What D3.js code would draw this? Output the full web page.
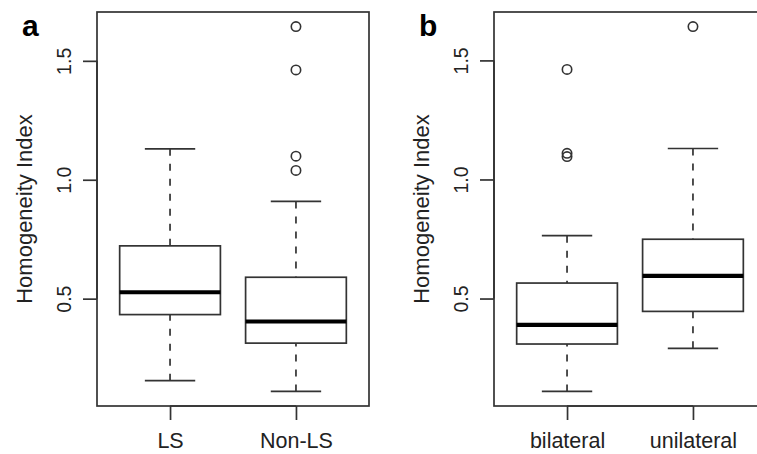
<!DOCTYPE html>
<html lang="en">
<head>
<meta charset="UTF-8">
<title>Homogeneity Index boxplots</title>
<script src="https://d3js.org/d3.v7.min.js"></script>
<style>
  body { margin: 0; background: #fff; }
  svg { display: block; font-family: "Liberation Sans", Arial, Helvetica, sans-serif; }
  .frame { fill: none; stroke: #333; stroke-width: 1.7; }
  .axis line { stroke: #333; stroke-width: 1.7; }
  .axis text { fill: #222; }
  .box { fill: #fff; stroke: #333; stroke-width: 1.7; }
  .median { stroke: #000; stroke-width: 4.2; }
  .whisker { stroke: #333; stroke-width: 1.7; stroke-dasharray: 7,8; }
  .staple { stroke: #333; stroke-width: 1.7; }
  .outlier { fill: none; stroke: #333; stroke-width: 1.6; }
</style>
</head>
<body>
<script>

// panel a
var groupsA = ["LS", "Non-LS"];
// [lower whisker, Q1, median, Q3, upper whisker]
var statsA = [
  [0.155, 0.433, 0.527, 0.722, 1.130],
  [0.110, 0.313, 0.404, 0.590, 0.909]
];
var outliersA = [[], [1.039, 1.099, 1.462, 1.644]];

// panel b
var groupsB = ["bilateral", "unilateral"];
var statsB = [
  [0.110, 0.309, 0.389, 0.565, 0.764],
  [0.291, 0.446, 0.595, 0.749, 1.130]
];
var outliersB = [[1.096, 1.110, 1.462], [1.642]];

var yTicks = [0.5, 1.0, 1.5];
var yTitle = "Homogeneity Index";

var width = 757, height = 454;
var plotTop = 12, plotBottom = 406, plotWidth = 272;

var svg = d3.select("body").append("svg")
    .attr("width", width)
    .attr("height", height);

svg.append("rect").attr("width", width).attr("height", height).attr("fill", "#fff");

function drawPanel(left, letter, groups, stats, outliers) {
  var all = [];
  stats.forEach(function(s) { all = all.concat(s); });
  outliers.forEach(function(o) { all = all.concat(o); });
  var lo = d3.min(all), hi = d3.max(all), pad = (hi - lo) * 0.04;

  var y = d3.scaleLinear().domain([lo - pad, hi + pad]).range([plotBottom, plotTop]);
  var n = groups.length, xpad = n * 0.04;
  var x = d3.scaleLinear().domain([0.5 - xpad, n + 0.5 + xpad]).range([left, left + plotWidth]);

  var g = svg.append("g");

  g.append("rect")
      .attr("class", "frame")
      .attr("x", left).attr("y", plotTop)
      .attr("width", plotWidth).attr("height", plotBottom - plotTop);

  var boxes = g.selectAll(".grp")
      .data(stats)
      .enter().append("g")
      .attr("class", "grp");

  var half = 0.4;

  boxes.append("line")
      .attr("class", "whisker")
      .attr("x1", function(d, i) { return x(i + 1); })
      .attr("x2", function(d, i) { return x(i + 1); })
      .attr("y1", function(d) { return y(d[4]); })
      .attr("y2", function(d) { return y(d[3]); });

  boxes.append("line")
      .attr("class", "whisker")
      .attr("x1", function(d, i) { return x(i + 1); })
      .attr("x2", function(d, i) { return x(i + 1); })
      .attr("y1", function(d) { return y(d[0]); })
      .attr("y2", function(d) { return y(d[1]); });

  [0, 4].forEach(function(k) {
    boxes.append("line")
        .attr("class", "staple")
        .attr("x1", function(d, i) { return x(i + 1 - half / 2); })
        .attr("x2", function(d, i) { return x(i + 1 + half / 2); })
        .attr("y1", function(d) { return y(d[k]); })
        .attr("y2", function(d) { return y(d[k]); });
  });

  boxes.append("rect")
      .attr("class", "box")
      .attr("x", function(d, i) { return x(i + 1 - half); })
      .attr("width", function(d, i) { return x(i + 1 + half) - x(i + 1 - half); })
      .attr("y", function(d) { return y(d[3]); })
      .attr("height", function(d) { return y(d[1]) - y(d[3]); });

  boxes.append("line")
      .attr("class", "median")
      .attr("x1", function(d, i) { return x(i + 1 - half); })
      .attr("x2", function(d, i) { return x(i + 1 + half); })
      .attr("y1", function(d) { return y(d[2]); })
      .attr("y2", function(d) { return y(d[2]); });

  outliers.forEach(function(o, i) {
    g.selectAll(".out" + i)
        .data(o)
        .enter().append("circle")
        .attr("class", "outlier")
        .attr("cx", x(i + 1))
        .attr("cy", function(d) { return y(d); })
        .attr("r", 4.7);
  });

  // y axis
  var yAxis = g.append("g")
      .attr("class", "axis")
      .attr("transform", "translate(" + left + ",0)")
      .call(d3.axisLeft(y).tickValues(yTicks).tickSize(14).tickFormat(d3.format(".1f")));
  yAxis.select(".domain").remove();
  yAxis.selectAll(".tick text")
      .attr("transform", "rotate(-90)")
      .attr("x", 0).attr("y", -26.5).attr("dy", 0)
      .style("text-anchor", "middle")
      .style("font-size", "19.5px");
  yAxis.append("line")
      .attr("y1", y(yTicks[0])).attr("y2", y(yTicks[yTicks.length - 1]));

  // x axis
  var xAxis = g.append("g")
      .attr("class", "axis")
      .attr("transform", "translate(0," + plotBottom + ")")
      .call(d3.axisBottom(x).tickValues(d3.range(1, n + 1)).tickSize(14)
        .tickFormat(function(d) { return groups[d - 1]; }));
  xAxis.select(".domain").remove();
  xAxis.selectAll(".tick text")
      .attr("y", 42).attr("dy", 0)
      .style("font-size", "21.5px");
  xAxis.append("line")
      .attr("x1", x(1)).attr("x2", x(n));

  g.append("text")
      .attr("transform", "translate(" + (left - 65.5) + "," + ((plotTop + plotBottom) / 2) + ") rotate(-90)")
      .attr("text-anchor", "middle")
      .attr("fill", "#222")
      .style("font-size", "22px")
      .text(yTitle);

  g.append("text")
      .attr("x", left - 75)
      .attr("y", 36)
      .attr("fill", "#000")
      .style("font-size", "30px")
      .style("font-weight", "bold")
      .text(letter);
}

drawPanel(97, "a", groupsA, statsA, outliersA);
drawPanel(494, "b", groupsB, statsB, outliersB);

</script>
</body>
</html>
